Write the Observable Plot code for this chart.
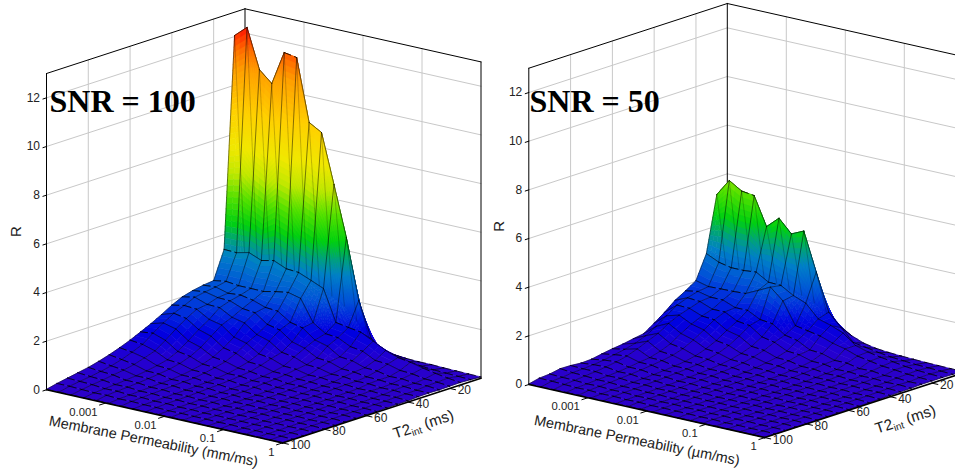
<!DOCTYPE html>
<html>
<head>
<meta charset="utf-8">
<script src="https://cdn.jsdelivr.net/npm/d3@7"></script>
<script src="https://cdn.jsdelivr.net/npm/@observablehq/plot@0.6"></script>
<style>html,body{margin:0;padding:0;background:#fff}</style>
</head>
<body>
<script>
// Grid axes of the surface
const t2Values = [5,10,15,20,25,30,35,40,45,50,55,60,65,70,75,80,85,90,95,100];
const permSteps = 19; // 20 log-spaced permeabilities from 1e-4 to 1
const t2Ticks = [20,40,60,80,100];
const permTicks = [0.001,0.01,0.1,1];
const rTicks = [0,2,4,6,8,10,12];
const rMax = 13;
const colorDomain = [0,0.5,1.2,2.2,3.2,3.8,4.5,5.5,6.5,7.5,9,10.7,11.5,12.3];
const colorRange = ["#2c00c8","#2400d0","#0000e0","#0050d8","#0080c8","#00a080","#00d010","#50e000","#c0e800","#f0e800","#ffd000","#ffa000","#ff7000","#ff2000"];

// R by row (T2 = 5 ... 100), each row by permeability
const snr100 = [
[2.5,2.6,2.5,2.4,2.5,2.4,2.2,2.0,1.7,1.2,.6,.25,.16,.12,.1,.1,.08,.07,.06,.05],
[12.04,12.49,10.87,10.41,11.8,11.71,9.16,8.86,6.84,4.77,2.3,.85,.47,.38,.25,.18,.14,.12,.1,.08],
[3.39,3.37,3.49,3.28,3.39,3.17,3.13,2.92,2.7,1.42,1.33,1.25,1.0,.73,.55,.47,.35,.25,.17,.1],
[2.25,2.33,2.27,2.27,2.26,2.37,2.45,2.32,1.44,1.1,1.05,.8,.72,.46,.42,.28,.25,.16,.14,.09],
[2.2,2.24,2.1,2.14,2.04,1.86,1.82,1.48,1.36,.98,.84,.52,.47,.3,.28,.17,.19,.12,.13,.08],
[2.12,2.18,2.06,2.04,1.84,1.78,1.42,1.3,.93,.78,.5,.45,.28,.26,.18,.17,.12,.13,.09,.09],
[2.0,2.1,1.92,1.9,1.62,1.5,1.14,.98,.64,.56,.36,.33,.2,.21,.14,.15,.1,.11,.08,.08],
[1.8,1.9,1.86,1.56,1.44,1.06,.92,.6,.52,.33,.31,.19,.2,.13,.14,.09,.11,.07,.08,.05],
[1.55,1.72,1.62,1.28,1.12,.76,.65,.41,.38,.24,.23,.16,.16,.11,.12,.08,.09,.06,.06,.05],
[1.32,1.46,1.33,.96,.8,.52,.45,.3,.27,.18,.19,.12,.13,.09,.1,.07,.08,.05,.06,.04],
[1.12,1.18,1.0,.66,.57,.37,.34,.21,.22,.15,.16,.1,.11,.08,.09,.06,.07,.04,.05,.03],
[.92,.86,.71,.46,.42,.27,.26,.16,.18,.11,.13,.08,.09,.06,.07,.05,.06,.04,.05,.03],
[.75,.68,.56,.36,.33,.2,.2,.13,.15,.09,.1,.06,.08,.05,.06,.04,.05,.03,.05,.03],
[.6,.52,.43,.28,.27,.16,.18,.11,.13,.08,.09,.05,.07,.04,.06,.03,.05,.03,.04,.02],
[.47,.4,.34,.22,.22,.14,.15,.09,.11,.07,.08,.05,.06,.04,.05,.03,.04,.02,.03,.02],
[.36,.31,.28,.18,.18,.12,.13,.08,.09,.06,.07,.04,.06,.03,.05,.03,.04,.02,.03,.01],
[.28,.24,.21,.14,.15,.1,.11,.07,.08,.05,.06,.04,.05,.03,.04,.02,.03,.02,.03,.01],
[.2,.18,.16,.11,.12,.08,.09,.06,.07,.04,.05,.03,.04,.03,.03,.02,.03,.01,.02,.01],
[.12,.12,.1,.08,.09,.06,.07,.05,.05,.03,.04,.03,.03,.02,.03,.01,.02,.01,.02,.01],
[.02,.02,.02,.02,.02,.02,.02,.02,.02,.02,.02,.02,.01,.01,.01,.01,.01,.01,.01,.01]
];
const snr50 = [
[1.8,2,2,1.9,1.9,1.8,1.7,1.5,1.2,.8,.5,.3,.2,.15,.12,.1,.08,.07,.06,.05],
[5.29,5.98,5.66,5.59,4.43,4.89,4.36,4.59,3.02,1.49,.97,.47,.38,.29,.22,.18,.14,.12,.1,.08],
[3.0,2.76,2.65,2.65,2.7,2.4,2.38,2.08,1.88,1.35,1.2,1.0,.6,.45,.35,.28,.2,.15,.12,.09],
[2.03,1.9,1.92,1.93,1.96,2.2,2.45,2.0,1.1,1.0,.9,.72,.6,.42,.33,.24,.2,.14,.11,.09],
[1.75,1.84,1.72,1.72,1.52,1.52,1.26,1.2,.85,.74,.47,.43,.27,.27,.16,.18,.11,.12,.08,.09],
[1.5,1.72,1.68,1.48,1.48,1.22,1.15,.8,.69,.45,.41,.26,.25,.15,.17,.11,.12,.08,.1,.07],
[1.15,1.56,1.54,1.34,1.3,.98,.86,.55,.5,.32,.3,.19,.19,.12,.13,.09,.1,.07,.08,.06],
[.84,1.26,1.4,1.15,1.02,.7,.61,.4,.37,.24,.23,.15,.15,.1,.11,.08,.09,.06,.07,.05],
[.55,.96,1.2,.9,.75,.5,.44,.29,.27,.18,.17,.11,.12,.08,.1,.07,.08,.05,.06,.04],
[.48,.72,.93,.62,.53,.35,.32,.22,.21,.14,.14,.09,.11,.07,.08,.06,.07,.04,.06,.03],
[.4,.55,.75,.45,.4,.26,.25,.17,.18,.11,.12,.08,.09,.06,.08,.05,.06,.04,.05,.03],
[.35,.44,.57,.33,.32,.21,.21,.14,.15,.09,.11,.07,.08,.05,.07,.04,.06,.03,.05,.03],
[.28,.36,.42,.28,.27,.17,.18,.12,.13,.08,.09,.06,.08,.05,.06,.04,.05,.03,.04,.03],
[.2,.28,.32,.22,.22,.14,.15,.1,.11,.07,.08,.05,.06,.04,.05,.03,.05,.03,.04,.02],
[.18,.23,.25,.17,.18,.12,.13,.08,.09,.06,.07,.04,.05,.04,.05,.03,.04,.02,.03,.02],
[.22,.2,.2,.14,.15,.1,.11,.07,.08,.05,.06,.04,.05,.03,.04,.03,.04,.02,.03,.01],
[.23,.18,.16,.12,.12,.08,.09,.06,.07,.04,.05,.03,.04,.03,.04,.02,.03,.02,.03,.01],
[.15,.13,.12,.09,.1,.07,.08,.05,.06,.04,.05,.03,.04,.02,.03,.02,.03,.01,.02,.01],
[.12,.11,.09,.07,.08,.05,.06,.04,.05,.03,.04,.03,.03,.02,.03,.01,.02,.01,.02,.01],
[.02,.02,.02,.02,.02,.02,.02,.02,.02,.02,.02,.02,.01,.01,.01,.01,.01,.01,.01,.01]
];

// Fixed oblique view shared by both panels
const view = {ux:236, uy:53.1, vx:-198.5, vy:64.7, rz:24.33};
const panels = [
  {key:"a", bx:244.5, by:324.6, rows:snr100, title:"SNR = 100", titleX:49, titleY:101,
   permLabel:"Membrane Permeability (mm/ms)", permLabelX:153, permLabelY:441, t2LabelX:423, t2LabelY:424},
  {key:"b", bx:726.8, by:319.3, rows:snr50, title:"SNR = 50", titleX:529, titleY:101,
   permLabel:"Membrane Permeability (\u00b5m/ms)", permLabelX:636.5, permLabelY:440, t2LabelX:905, t2LabelY:419}
];
const proj = (p, u, v, r) => ({
  x: p.bx + u*view.ux + v*view.vx,
  y: p.by + u*view.uy + v*view.vy - r*view.rz
});
const vOfT2 = t => (t - t2Values[0]) / (t2Values[t2Values.length-1] - t2Values[0]);
const uOfPerm = m => (Math.log10(m) + 4) / 4;

const base = {fontFamily:"Liberation Sans, Arial, sans-serif"};
const marks = [];
let nextId = 0;
function seg(list, p, a, b) {
  const id = nextId++;
  list.push({...proj(p,...a), id}, {...proj(p,...b), id});
}

for (const p of panels) {
  // walls
  const grid = [], frame = [], ticks = [];
  for (const t of t2Ticks) if (t < 100) { const v = vOfT2(t); seg(grid,p,[0,v,0],[0,v,rMax]); }
  for (const m of permTicks) if (m < 1) { const u = uOfPerm(m); seg(grid,p,[u,0,0],[u,0,rMax]); }
  for (const r of rTicks) if (r > 0) { seg(grid,p,[0,0,r],[0,1,r]); seg(grid,p,[0,0,r],[1,0,r]); }
  marks.push(Plot.line(grid,{x:"x",y:"y",z:"id",stroke:"#c8c8c8",strokeWidth:1}));
  seg(frame,p,[0,1,rMax],[0,0,rMax]); seg(frame,p,[0,0,rMax],[1,0,rMax]);
  seg(frame,p,[0,1,0],[0,1,rMax]); seg(frame,p,[1,0,0],[1,0,rMax]); seg(frame,p,[0,0,0],[0,0,rMax]);
  marks.push(Plot.line(frame,{x:"x",y:"y",z:"id",stroke:"#000",strokeWidth:1}));

  // surface, back to front
  const R = p.rows, nv = R.length, nu = R[0].length;
  const uAt = i => i/permSteps, vAt = j => vOfT2(t2Values[j]);
  for (let j = 0; j < nv-1; j++) {
    const facets = [], steep = [], flat = [], across = [];
    for (let i = 0; i < nu-1; i++) {
      const a=R[j][i], b=R[j][i+1], c=R[j+1][i], d=R[j+1][i+1];
      const su = Math.min(30, Math.max(1, Math.ceil(Math.max(Math.abs(a-b),Math.abs(c-d))*4)));
      const sv = Math.min(50, Math.max(1, Math.ceil(Math.max(Math.abs(a-c),Math.abs(b-d))*4)));
      const at = (s,t) => {
        const r = (a*(1-s)+b*s)*(1-t) + (c*(1-s)+d*s)*t;
        return {...proj(p, uAt(i)+(uAt(i+1)-uAt(i))*s, vAt(j)+(vAt(j+1)-vAt(j))*t, r), r};
      };
      for (let n = 0; n < sv; n++) for (let k = 0; k < su; k++) {
        const s0=k/su,s1=(k+1)/su,t0=n/sv,t1=(n+1)/sv, id=nextId++;
        const rv = at((s0+s1)/2,(t0+t1)/2).r;
        for (const [s,t] of [[s0,t0],[s1,t0],[s1,t1],[s0,t1],[s0,t0]]) {
          const q = at(s,t);
          facets.push({x:q.x,y:q.y,r:rv,id});
        }
      }
    }
    marks.push(Plot.line(facets,{x:"x",y:"y",z:"id",fill:"r",stroke:"r",strokeWidth:0.6}));
    for (const jj of [j, j+1]) for (let i = 0; i < nu-1; i++) {
      const target = Math.abs(R[jj][i]-R[jj][i+1]) < 0.12 ? flat : steep;
      seg(target,p,[uAt(i),vAt(jj),R[jj][i]],[uAt(i+1),vAt(jj),R[jj][i+1]]);
    }
    for (let i = 0; i < nu; i++) seg(across,p,[uAt(i),vAt(j),R[j][i]],[uAt(i),vAt(j+1),R[j+1][i]]);
    marks.push(Plot.line(across,{x:"x",y:"y",z:"id",stroke:"#000",strokeWidth:0.6,strokeOpacity:0.8}));
    marks.push(Plot.line(steep,{x:"x",y:"y",z:"id",stroke:"#000",strokeWidth:0.6,strokeOpacity:0.85}));
    marks.push(Plot.line(flat,{x:"x",y:"y",z:"id",stroke:"#000",strokeWidth:0.75,strokeDasharray:"7,4"}));
    if (j === 1) {
      // back row's mesh lines show faintly through the ridge in the original
      const ghost = [];
      for (let i = 0; i < nu; i++) seg(ghost,p,[uAt(i),vAt(0),R[0][i]],[uAt(i),vAt(1),R[1][i]]);
      marks.push(Plot.line(ghost,{x:"x",y:"y",z:"id",stroke:"#000",strokeWidth:0.5,strokeOpacity:0.4}));
    }
  }

  // floor edges and ticks
  const edge = [];
  seg(edge,p,[0,1,0],[1,1,0]); seg(edge,p,[1,1,0],[1,0,0]);
  marks.push(Plot.line(edge,{x:"x",y:"y",z:"id",stroke:"#000",strokeWidth:1.6}));
  for (const r of rTicks) seg(ticks,p,[0,1,r],[0,1.018,r]);
  for (const m of permTicks) seg(ticks,p,[uOfPerm(m),1,0],[uOfPerm(m),1.03,0]);
  for (const t of t2Ticks) seg(ticks,p,[1,vOfT2(t),0],[1.025,vOfT2(t),0]);
  marks.push(Plot.line(ticks,{x:"x",y:"y",z:"id",stroke:"#000",strokeWidth:1}));

  // tick labels
  marks.push(Plot.text(rTicks,{x:r=>proj(p,0,1,r).x-6.5,y:r=>proj(p,0,1,r).y,text:r=>String(r),
    textAnchor:"end",fontSize:12,fill:"#222",...base}));
  marks.push(Plot.text(permTicks,{x:m=>proj(p,uOfPerm(m),1,0).x-8,y:m=>proj(p,uOfPerm(m),1,0).y+9,text:m=>String(m),
    textAnchor:"end",fontSize:11.3,fill:"#222",...base}));
  marks.push(Plot.text(t2Ticks,{x:t=>proj(p,1,vOfT2(t),0).x+8,y:t=>proj(p,1,vOfT2(t),0).y+2.2,text:t=>String(t),
    textAnchor:"start",fontSize:12,fill:"#222",...base}));

  // titles
  marks.push(Plot.text([p.permLabel],{x:()=>p.permLabelX,y:()=>p.permLabelY,text:d=>d,rotate:11.2,fontSize:14.4,fill:"#222",...base}));
  marks.push(Plot.text(["T2int (ms)"],{x:()=>p.t2LabelX,y:()=>p.t2LabelY,text:d=>d,rotate:-18,fontSize:15.2,fill:"#222",...base}));
  marks.push(Plot.text(["R"],{x:()=>proj(p,0,1,0).x-30,y:()=>proj(p,0,1,6.5).y,text:d=>d,rotate:-90,fontSize:15,fill:"#222",...base}));
  marks.push(Plot.text([p.title],{x:()=>p.titleX,y:()=>p.titleY,text:d=>d,textAnchor:"start",fontSize:32,fontWeight:"bold",
    fontFamily:"Liberation Serif, Times New Roman, serif",fill:"#000"}));
}

const chart = Plot.plot({
  width:955, height:470, margin:0,
  x:{domain:[0,955],range:[0,955],axis:null},
  y:{domain:[0,470],range:[0,470],axis:null},
  color:{type:"linear",domain:colorDomain,range:colorRange,clamp:true},
  marks
});
d3.select(chart).selectAll("text").filter(function(){return this.textContent==="T2int (ms)";}).each(function(){
  const t = d3.select(this); t.text("");
  t.append("tspan").text("T2");
  t.append("tspan").attr("dy",3).attr("font-size",10).text("int");
  t.append("tspan").attr("dy",-3).text(" (ms)");
});
document.body.appendChild(chart);
</script>
</body>
</html>
